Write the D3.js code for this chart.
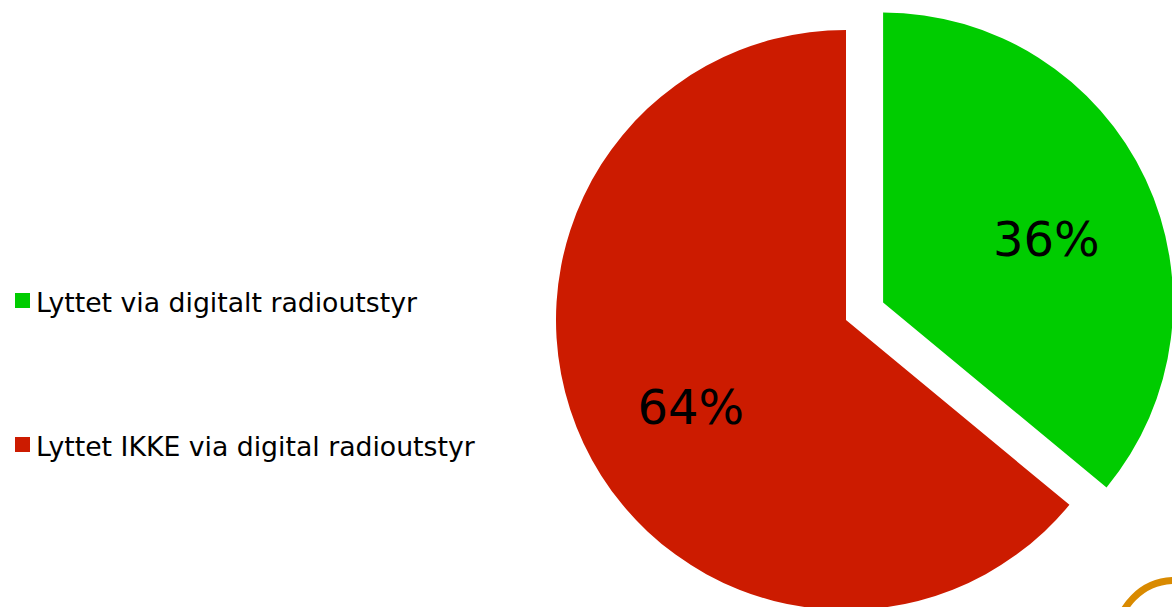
<!DOCTYPE html>
<html>
<head>
<meta charset="utf-8">
<script src="https://cdn.jsdelivr.net/npm/d3@7"></script>
<style>
  body { margin: 0; background: #fff; }
  svg { display: block; font-family: "DejaVu Sans", Verdana, sans-serif; }
</style>
</head>
<body>
<svg></svg>
<script>
// data
const categories = ['Lyttet via digitalt radioutstyr', 'Lyttet IKKE via digital radioutstyr'];
const values = [36, 64];
const colors = ['#00CC00', '#CC1B00'];

const width = 1172, height = 607;
const svg = d3.select('svg').attr('width', width).attr('height', height);

const cx = 846, cy = 320, radius = 290, explode = 41;

const pie = d3.pie().sort(null).value(d => d);
const arcs = pie(values);
const arcGen = d3.arc().innerRadius(0).outerRadius(radius);
const labelArc = d3.arc().innerRadius(176).outerRadius(176);

const pieG = svg.append('g').attr('transform', `translate(${cx},${cy})`);

const slices = pieG.selectAll('g.slice')
  .data(arcs)
  .enter().append('g')
    .attr('class', 'slice')
    .attr('transform', (d, i) => {
      if (i !== 0) return null;
      const mid = (d.startAngle + d.endAngle) / 2;
      return `translate(${Math.sin(mid) * explode},${-Math.cos(mid) * explode})`;
    });

slices.append('path')
  .attr('d', arcGen)
  .attr('fill', (d, i) => colors[i]);

slices.append('text')
  .attr('transform', d => {
    const [x, y] = labelArc.centroid(d);
    return `translate(${x + 4},${y})`;
  })
  .attr('text-anchor', 'middle')
  .attr('dy', '0.6em')
  .attr('font-size', 48)
  .attr('fill', '#000')
  .text(d => d.data + '%');

// legend
const legendG = svg.append('g').attr('transform', 'translate(15,293)');
const items = legendG.selectAll('g')
  .data(categories)
  .enter().append('g')
    .attr('transform', (d, i) => `translate(0,${i * 144})`);
items.append('rect')
  .attr('width', 15).attr('height', 15)
  .attr('fill', (d, i) => colors[i]);
items.append('text')
  .attr('x', 21).attr('y', 19)
  .attr('font-size', 26.7)
  .attr('fill', '#000')
  .text(d => d);

// decorative ring bottom right
svg.append('circle')
  .attr('cx', 1175).attr('cy', 639).attr('r', 58.5)
  .attr('fill', 'none')
  .attr('stroke', '#D98A00')
  .attr('stroke-width', 7);
</script>
</body>
</html>
